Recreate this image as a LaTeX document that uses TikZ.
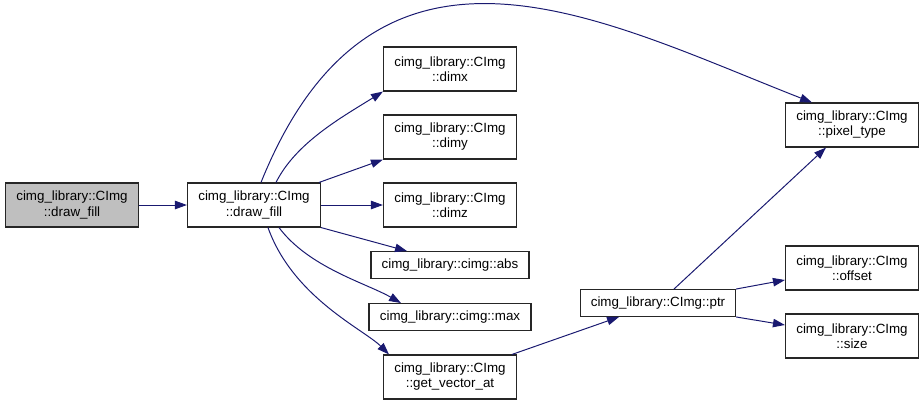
\documentclass[tikz,border=0pt]{standalone}
\usepackage{fontspec}
\setmainfont{Liberation Sans}
\usetikzlibrary{arrows.meta}

\definecolor{edgeblue}{HTML}{191970}
\definecolor{callgray}{HTML}{BFBFBF}

\begin{document}
\begin{tikzpicture}[x=0.025cm, y=-0.025cm,
        fn/.style={draw=black!85, line width=0.8pt, fill=white, align=center, inner sep=0pt,
            minimum width=3.325cm, minimum height=1.1cm, font=\fontsize{9.5}{10.7}\selectfont},
        fnline/.style={fn, minimum height=0.67cm},
        call/.style={edgeblue, line width=0.7pt, -{Triangle[length=8.5pt, width=6pt]}}]

    \useasboundingbox (0,0) rectangle (923,404);

    \node[fn, fill=callgray] (caller) at (72, 205) {cimg\_library::CImg\\::draw\_fill};
    \node[fn] (drawfill) at (254, 205) {cimg\_library::CImg\\::draw\_fill};

    \node[fn] (dimx) at (450, 69) {cimg\_library::CImg\\::dimx};
    \node[fn] (dimy) at (450, 137) {cimg\_library::CImg\\::dimy};
    \node[fn] (dimz) at (450, 205) {cimg\_library::CImg\\::dimz};
    \node[fnline, minimum width=3.95cm] (absn) at (450, 265) {cimg\_library::cimg::abs};
    \node[fnline, minimum width=4.05cm] (maxn) at (450, 317) {cimg\_library::cimg::max};
    \node[fn] (getvec) at (450, 377) {cimg\_library::CImg\\::get\_vector\_at};

    \node[fnline, minimum width=3.875cm] (ptr) at (658, 303) {cimg\_library::CImg::ptr};

    \node[fn] (pixtype) at (852, 125) {cimg\_library::CImg\\::pixel\_type};
    \node[fn] (offset) at (852, 268) {cimg\_library::CImg\\::offset};
    \node[fn] (sizen) at (852, 336) {cimg\_library::CImg\\::size};

    % caller -> drawfill
    \draw[call] (caller) -- (drawfill);

    % drawfill -> pixel_type (long arc over the top)
    \draw[call] ([xshift=0.175cm]drawfill.north) .. controls +(115,-285) and +(-212,-83) .. ([xshift=-1cm]pixtype.north);

    % drawfill -> dimx
    \draw[call] ([xshift=0.55cm]drawfill.north) .. controls +(20,-40) and +(-40,25) .. (dimx.south west);

    % drawfill -> dimy
    \draw[call] ([xshift=-0.05cm]drawfill.north east) -- (dimy.south west);

    % drawfill -> dimz
    \draw[call] (drawfill) -- (dimz);

    % drawfill -> abs
    \draw[call] (drawfill.south east) -- ([xshift=-1.075cm]absn.north);

    % drawfill -> max
    \draw[call] ([xshift=0.625cm]drawfill.south) .. controls +(30,40) and +(-35,-20) .. ([xshift=-1.225cm]maxn.north);

    % drawfill -> get_vector_at
    \draw[call] ([xshift=0.35cm]drawfill.south) .. controls +(25,70) and +(-25,-25) .. ([xshift=-1.525cm]getvec.north);

    % get_vector_at -> ptr
    \draw[call] ([xshift=1.55cm]getvec.north) -- ([xshift=-0.975cm]ptr.south);

    % ptr -> pixel_type
    \draw[call] ([xshift=0.4cm]ptr.north) -- ([xshift=-0.65cm]pixtype.south);

    % ptr -> offset
    \draw[call] (ptr.north east) -- ([yshift=-0.3cm]offset.west);

    % ptr -> size
    \draw[call] (ptr.south east) -- ([yshift=0.275cm]sizen.west);

\end{tikzpicture}
\end{document}
